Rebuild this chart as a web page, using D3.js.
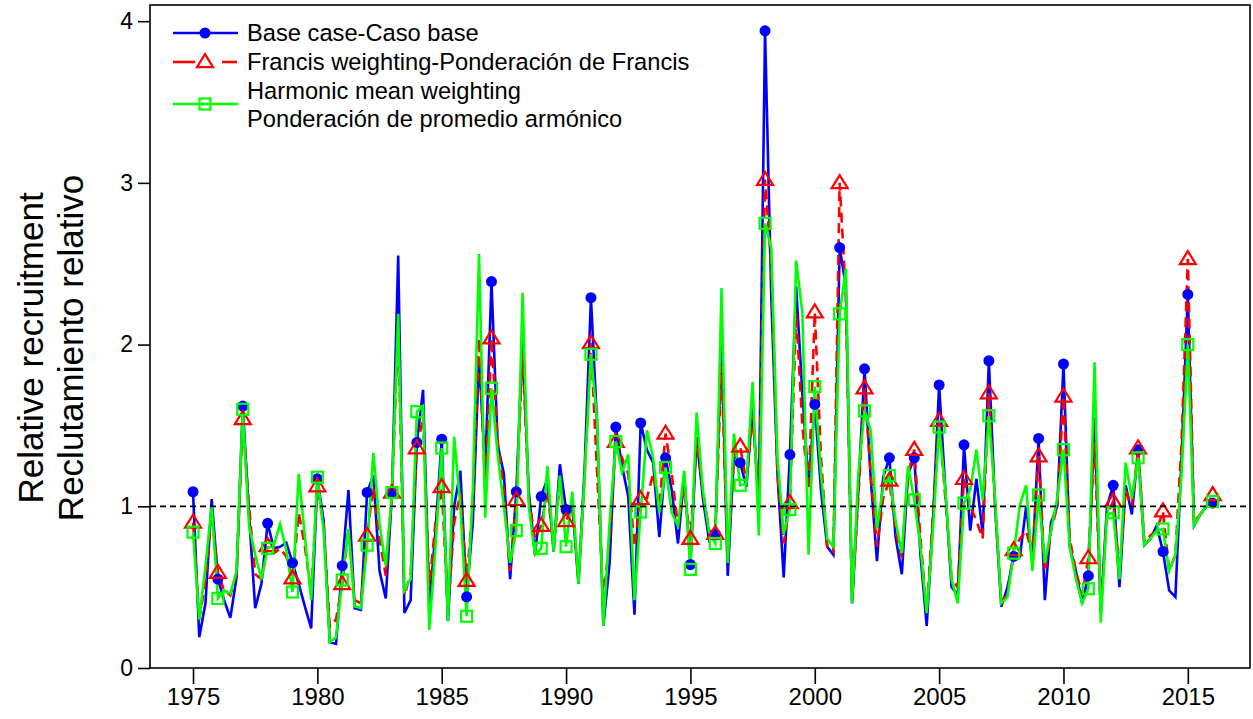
<!DOCTYPE html>
<html>
<head>
<meta charset="utf-8">
<script src="https://cdn.jsdelivr.net/npm/d3@7"></script>
<style>
  html, body { margin: 0; padding: 0; background: #fff; }
  svg { display: block; }
  text { font-family: Arial, "Liberation Sans", sans-serif; fill: #000; }
  .xtick text { font-family: "Liberation Sans Narrow", "Arial Narrow", "Liberation Sans", sans-serif; font-stretch: condensed; }
</style>
</head>
<body>
<svg id="chart" width="1253" height="719"></svg>
<script>
// Quarterly relative recruitment, one row per year (Q1..Q4), 1975 Q1 to 2016 Q1
const startYear = 1975;

const baseCase = [
  1.09, 0.19, 0.40, 1.045,   // 1975
  0.55, 0.42, 0.31, 0.56,    // 1976
  1.62, 0.95, 0.37, 0.52,    // 1977
  0.895, 0.74, 0.75, 0.775,  // 1978
  0.65, 0.52, 0.38, 0.245,   // 1979
  1.17, 0.915, 0.16, 0.15,   // 1980
  0.633, 1.10, 0.37, 0.36,   // 1981
  1.086, 1.19, 0.60, 0.43,   // 1982
  1.085, 2.55, 0.34, 0.42,   // 1983
  1.395, 1.72, 0.38, 0.85,   // 1984
  1.415, 0.29, 1.0, 1.22,    // 1985
  0.44, 0.9, 1.92, 1.22,     // 1986
  2.39, 1.38, 1.2, 0.55,     // 1987
  1.09, 2.03, 1.09, 0.70,    // 1988
  1.06, 1.17, 0.72, 1.26,    // 1989
  0.98, 1.01, 0.52, 1.25,    // 1990
  2.29, 1.5, 0.26, 0.65,     // 1991
  1.49, 1.25, 1.06, 0.33,    // 1992
  1.515, 1.35, 1.27, 0.81,   // 1993
  1.30, 1.1, 0.77, 1.19,     // 1994
  0.64, 1.43, 1.05, 0.79,    // 1995
  0.83, 2.05, 0.57, 1.32,    // 1996
  1.27, 1.12, 1.61, 1.0,     // 1997
  3.94, 2.3, 1.2, 0.56,      // 1998
  1.32, 2.36, 1.7, 1.14,     // 1999
  1.63, 1.1, 0.75, 0.70,     // 2000
  2.60, 2.36, 0.40, 1.1,     // 2001
  1.85, 1.17, 0.66, 1.18,    // 2002
  1.30, 0.81, 0.58, 1.2,     // 2003
  1.30, 0.7, 0.26, 0.9,      // 2004
  1.75, 1.1, 0.50, 0.45,     // 2005
  1.38, 0.85, 1.17, 0.83,    // 2006
  1.90, 1.0, 0.38, 0.50,     // 2007
  0.69, 0.69, 1.0, 0.65,     // 2008
  1.42, 0.42, 0.9, 1.0,      // 2009
  1.88, 0.75, 0.6, 0.40,     // 2010
  0.57, 1.55, 0.35, 1.0,     // 2011
  1.13, 0.5, 1.13, 0.95,     // 2012
  1.35, 0.76, 0.80, 0.88,    // 2013
  0.72, 0.48, 0.44, 1.3,     // 2014
  2.31, 0.88, 0.95, 1.0,     // 2015
  1.02                       // 2016
];

const francisWeighting = [
  0.90, 0.30, 0.54, 0.96,    // 1975
  0.59, 0.48, 0.45, 0.58,    // 1976
  1.54, 1.0, 0.58, 0.55,     // 1977
  0.755, 0.71, 0.74, 0.69,   // 1978
  0.555, 0.96, 0.75, 0.46,   // 1979
  1.125, 0.88, 0.255, 0.30,  // 1980
  0.52, 0.85, 0.42, 0.40,    // 1981
  0.82, 1.12, 0.80, 0.57,    // 1982
  1.085, 2.1, 0.45, 0.58,    // 1983
  1.36, 1.55, 0.5, 0.9,      // 1984
  1.12, 0.35, 0.9, 1.08,     // 1985
  0.54, 1.0, 2.04, 1.1,      // 1986
  2.04, 1.4, 1.1, 0.6,       // 1987
  1.04, 1.95, 1.05, 0.8,     // 1988
  0.88, 1.1, 0.75, 1.15,     // 1989
  0.91, 1.0, 0.55, 1.2,      // 1990
  2.01, 1.2, 0.43, 0.8,      // 1991
  1.40, 1.3, 1.2, 0.75,      // 1992
  1.045, 1.05, 1.2, 1.0,     // 1993
  1.45, 1.2, 0.88, 1.1,      // 1994
  0.80, 1.4, 1.1, 0.85,      // 1995
  0.83, 1.87, 0.65, 1.3,     // 1996
  1.37, 1.15, 1.56, 1.05,    // 1997
  3.02, 2.5, 1.2, 0.77,      // 1998
  1.02, 2.2, 1.5, 1.1,       // 1999
  2.20, 1.3, 0.75, 0.72,     // 2000
  3.00, 2.3, 0.42, 1.05,     // 2001
  1.73, 1.2, 0.75, 1.05,     // 2002
  1.16, 0.85, 0.68, 1.2,     // 2003
  1.35, 0.8, 0.34, 0.95,     // 2004
  1.53, 1.05, 0.55, 0.5,     // 2005
  1.17, 1.0, 0.91, 0.8,      // 2006
  1.70, 1.0, 0.42, 0.45,     // 2007
  0.73, 0.8, 0.85, 0.7,      // 2008
  1.31, 0.6, 0.85, 1.0,      // 2009
  1.68, 0.8, 0.6, 0.45,      // 2010
  0.68, 1.4, 0.35, 0.95,     // 2011
  1.03, 0.6, 1.1, 1.0,       // 2012
  1.36, 0.78, 0.82, 0.85,    // 2013
  0.97, 0.6, 0.7, 1.4,       // 2014
  2.53, 0.9, 0.95, 1.0,      // 2015
  1.07                       // 2016
];

const harmonicWeighting = [
  0.84, 0.30, 0.63, 1.0,     // 1975
  0.43, 0.48, 0.46, 0.60,    // 1976
  1.60, 0.88, 0.70, 0.55,    // 1977
  0.74, 0.76, 0.89, 0.73,    // 1978
  0.47, 1.20, 0.81, 0.42,    // 1979
  1.18, 0.85, 0.16, 0.19,    // 1980
  0.544, 0.86, 0.38, 0.37,   // 1981
  0.76, 1.33, 0.89, 0.63,    // 1982
  1.085, 2.19, 0.48, 0.55,   // 1983
  1.585, 1.62, 0.235, 0.75,  // 1984
  1.36, 0.29, 1.43, 1.0,     // 1985
  0.32, 1.1, 2.56, 0.93,     // 1986
  1.73, 1.32, 1.0, 0.65,     // 1987
  0.85, 2.32, 1.0, 0.70,     // 1988
  0.74, 1.25, 0.72, 1.19,    // 1989
  0.75, 1.09, 0.52, 1.2,     // 1990
  1.94, 1.53, 0.26, 0.9,     // 1991
  1.40, 1.21, 1.32, 0.42,    // 1992
  0.965, 1.47, 1.30, 0.96,   // 1993
  1.24, 0.96, 0.88, 1.22,    // 1994
  0.61, 1.58, 1.1, 0.84,     // 1995
  0.77, 2.35, 0.65, 1.45,    // 1996
  1.13, 1.14, 1.77, 0.82,    // 1997
  2.75, 2.6, 1.3, 0.83,      // 1998
  0.98, 2.52, 2.2, 0.70,     // 1999
  1.74, 1.2, 0.8, 0.75,      // 2000
  2.19, 2.47, 0.40, 1.2,     // 2001
  1.59, 1.47, 0.86, 1.12,    // 2002
  1.19, 0.91, 0.71, 1.25,    // 2003
  1.04, 0.75, 0.34, 0.85,    // 2004
  1.49, 1.1, 0.55, 0.40,     // 2005
  1.02, 1.1, 1.35, 1.04,     // 2006
  1.56, 1.05, 0.40, 0.44,    // 2007
  0.71, 1.01, 1.13, 0.6,     // 2008
  1.07, 0.65, 0.85, 1.05,    // 2009
  1.35, 0.75, 0.55, 0.40,    // 2010
  0.49, 1.89, 0.28, 0.95,    // 2011
  0.96, 0.55, 1.27, 1.05,    // 2012
  1.30, 0.76, 0.8, 0.85,     // 2013
  0.86, 0.6, 0.7, 1.2,       // 2014
  2.0, 0.88, 0.95, 1.0,      // 2015
  1.03                       // 2016
];

const yTicks = [0, 1, 2, 3, 4];
const xTicks = [1975, 1980, 1985, 1990, 1995, 2000, 2005, 2010, 2015];
const referenceLevel = 1;

const seriesNames = [
  ["Base case-Caso base"],
  ["Francis weighting-Ponderación de Francis"],
  ["Harmonic mean weighting", "Ponderación de promedio armónico"]
];
const yTitle = ["Relative recruitment", "Reclutamiento relativo"];

// ---- layout ----
const svg = d3.select("#chart");
const plot = { left: 150, right: 1250, top: 5, bottom: 668 };

const x = d3.scaleLinear().domain([1973.27, 2017.5]).range([plot.left, plot.right]);
const y = d3.scaleLinear().domain([0, 4.1]).range([plot.bottom, plot.top]);

const toPoints = vals => vals.map((v, i) => ({ t: startYear + i / 4, v, annual: i % 4 === 0 }));

const series = [
  { key: "base", data: toPoints(baseCase), color: "#0000ff", dash: null, marker: "dot" },
  { key: "francis", data: toPoints(francisWeighting), color: "#ff0000", dash: "10,6", marker: "tri" },
  { key: "harmonic", data: toPoints(harmonicWeighting), color: "#00ff00", dash: null, marker: "sq" }
];
const lineWidth = 2.6;

// ---- axes ----
const yAxis = d3.axisLeft(y).tickValues(yTicks).tickFormat(d3.format("d")).tickSize(12).tickPadding(5);
const gy = svg.append("g").attr("transform", `translate(${plot.left},0)`).call(yAxis);
gy.select(".domain").remove();
gy.selectAll("line").attr("stroke", "#000").attr("stroke-width", 1.6);
gy.selectAll("text").style("font-size", "23px");

const xAxis = d3.axisBottom(x).tickValues(xTicks).tickFormat(d3.format("d")).tickSize(16).tickPadding(4);
const gx = svg.append("g").attr("class", "xtick").attr("transform", `translate(0,${plot.bottom})`).call(xAxis);
gx.select(".domain").remove();
gx.selectAll("line").attr("stroke", "#000").attr("stroke-width", 1.6);
gx.selectAll("text").style("font-size", "24px");

// ---- series lines ----
const line = d3.line().x(d => x(d.t)).y(d => y(d.v));

series.forEach(s => {
  svg.append("path")
    .datum(s.data)
    .attr("d", line)
    .attr("fill", "none")
    .attr("stroke", s.color)
    .attr("stroke-width", lineWidth)
    .attr("stroke-linejoin", "miter")
    .attr("stroke-dasharray", s.dash);
});

// ---- markers (first quarter of each year) ----
function drawMarker(g, type, cx, cy, color) {
  if (type === "dot") {
    g.append("circle").attr("cx", cx).attr("cy", cy).attr("r", 5.5).attr("fill", color);
  } else if (type === "tri") {
    const h = 13, w = 16;
    g.append("path")
      .attr("d", `M${cx},${cy - h * 0.6}L${cx + w / 2},${cy + h * 0.4}L${cx - w / 2},${cy + h * 0.4}Z`)
      .attr("fill", "none").attr("stroke", color).attr("stroke-width", 2.2);
  } else {
    const a = 11;
    g.append("rect").attr("x", cx - a / 2).attr("y", cy - a / 2).attr("width", a).attr("height", a)
      .attr("fill", "none").attr("stroke", color).attr("stroke-width", 2.2);
  }
}

series.forEach(s => {
  const g = svg.append("g");
  s.data.filter(d => d.annual).forEach(d => drawMarker(g, s.marker, x(d.t), y(d.v), s.color));
});

// ---- reference line at 1 ----
svg.append("line")
  .attr("x1", plot.left).attr("x2", plot.right)
  .attr("y1", y(referenceLevel)).attr("y2", y(referenceLevel))
  .attr("stroke", "#000").attr("stroke-width", 1.8).attr("stroke-dasharray", "6,4");

// ---- frame ----
svg.append("rect")
  .attr("x", plot.left).attr("y", plot.top)
  .attr("width", plot.right - plot.left).attr("height", plot.bottom - plot.top)
  .attr("fill", "none").attr("stroke", "#000").attr("stroke-width", 1.6);

// ---- y title ----
yTitle.forEach((t, i) => {
  svg.append("text")
    .attr("transform", `translate(${30 + i * 40},348) rotate(-90)`)
    .attr("text-anchor", "middle")
    .attr("dominant-baseline", "central")
    .style("font-size", "35px")
    .text(t);
});

// ---- legend ----
const lg = svg.append("g");
const legendRows = [
  { s: series[0], sy: 33, textY: [33] },
  { s: series[1], sy: 62, textY: [62] },
  { s: series[2], sy: 104, textY: [91, 119] }
];
legendRows.forEach((r, i) => {
  if (r.s.dash) {
    lg.append("line").attr("x1", 173).attr("x2", 195).attr("y1", r.sy).attr("y2", r.sy)
      .attr("stroke", r.s.color).attr("stroke-width", lineWidth);
    lg.append("line").attr("x1", 222).attr("x2", 237).attr("y1", r.sy).attr("y2", r.sy)
      .attr("stroke", r.s.color).attr("stroke-width", lineWidth);
  } else {
    lg.append("line").attr("x1", 173).attr("x2", 238).attr("y1", r.sy).attr("y2", r.sy)
      .attr("stroke", r.s.color).attr("stroke-width", lineWidth);
  }
  drawMarker(lg, r.s.marker, 205, r.sy, r.s.color);
  seriesNames[i].forEach((name, j) => {
    lg.append("text").attr("x", 247).attr("y", r.textY[j])
      .attr("dominant-baseline", "central")
      .style("font-size", "23.7px")
      .text(name);
  });
});
</script>
</body>
</html>
